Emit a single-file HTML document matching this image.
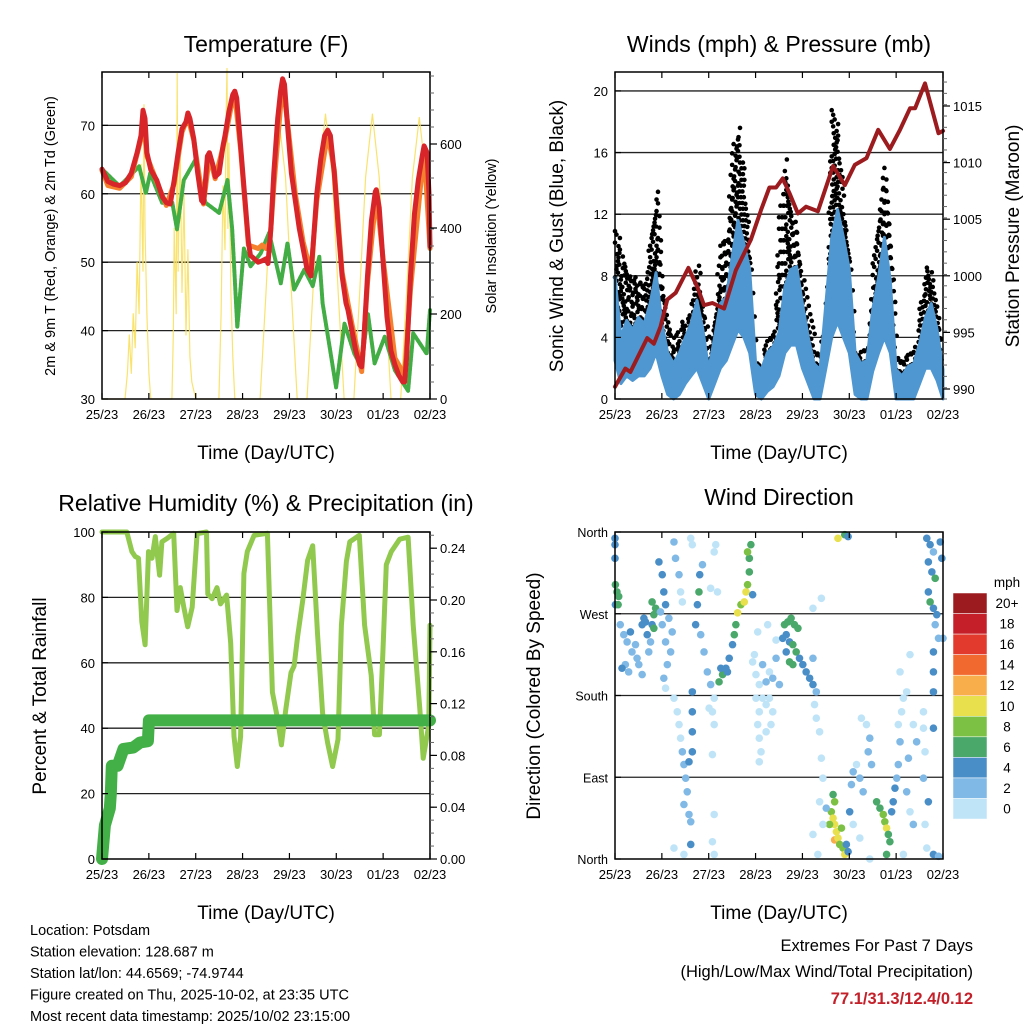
<!DOCTYPE html>
<html><head><meta charset="utf-8"><style>
html,body{margin:0;padding:0;background:#fff;}
svg{display:block;font-family:"Liberation Sans",sans-serif;}
</style></head><body>
<svg id="c" width="1024" height="1024" viewBox="0 0 1024 1024"></svg>
<script>
const dayLabels=['25/23','26/23','27/23','28/23','29/23','30/23','01/23','02/23'];
const tempHours=[0,3,6,9,12,15,18,20,21,22,23,25,28,31,33,35,37,39,41,43,44,45,47,49,51,52,53,54,55,57,58,60,62,63,65,67,68,69,71,73,75,76,78,80,82,84,85,86.5,88,90,91.5,92.5,93.5,95,97,99,101,103,105,107,108,110,112,114,115.6,117,119,121,123,125,126,128,130,132,133,134,136,138,140,140.5,142,144,146,148,150,152,154,155,156,158,160,162,164,165,166.5,167.5,168];
const tempRed=[63.6,61.8,61.4,61.2,61.6,63,66,68.5,72.2,71,66,63.5,62,59.5,58.7,58.5,62,66,69.5,70.5,71.8,71,68,63,59,58.7,62,65.5,66,64,62.5,63,67,68.5,72,74.5,75,74,67,60,53,51,50.5,50,50.2,50.5,49.8,55,63,71,75,76.8,76,70,63,59,55,52,49,48,52,60,65,68.5,69.3,68.5,63,55,48,44,43,40,37,35,34.7,38,48,56,60.3,60.6,58,50,42,37,35,33.5,32.5,32.5,36,48,57,62,65.5,67,66,60,52.3];
const orangeHours=[0,3,9,15,20,21,23,28,33,37,41,44,47,52,55,58,63,67,68,71,75,78,80,82,84,86,88,92.5,95,99,103,107,110,115.6,119,123,128,133,136,140.5,144,150,155,158,165,168];
const tempOrange=[63.4,61.2,60.8,62.5,68,71.5,65.5,61.8,58.3,61.5,69,71.2,67.8,58.5,65.5,62.2,68,74,74.5,66.5,52.5,52.2,52,52.5,52,53,61,76.3,70.5,60,53,48.5,59,68.8,63.5,48.5,41,34,47,60,50.5,36,33.5,46,66.5,52];
const dewHours=[0,9,19,22.5,24.7,30.8,36,38.4,41.9,47.9,53,60,64.3,66.7,69.3,72.7,76.1,81.3,85.6,91.6,95,98.4,103.6,107.9,111.3,113,119.9,124.2,129.3,132.8,136.2,139.6,144.8,150,156.8,159.4,166.3,168];
const dewVals=[63.6,61.1,64,60.1,63,58.7,58.7,54.8,62,65,58.7,57.2,62,54.8,40.5,52,49.4,51.3,54.3,46.9,52.8,46,48.9,46.5,50.8,44,31.7,41,36.6,34.7,42.5,35.2,39.1,34.2,31.2,39.6,36.6,43];
const solarHours=[0,11.8,13,14,15,16,17,18,19,20,21,21.5,22,23,24,25,35.8,36.5,37,38,38.5,39,40,41,42,43,44,45,46,48,59.9,61,62,63,63.5,64,64.5,65,66,67,68,81,84,87,90.5,94,97,100,105,108,111,114.5,118,121,124,129,132,135,138.5,142,145,148,153,156,159,162.5,166,168];
const solarVals=[0,0,60,150,60,200,120,320,200,550,300,690,400,200,60,0,0,150,400,200,763,300,600,250,480,150,350,100,40,0,0,200,500,350,650,775,400,600,250,100,0,0,250,520,660,520,250,0,0,250,520,668,520,250,0,0,250,520,668,520,250,0,0,250,520,660,520,380];
const windHours=[0,3,6,9,12,15,18,21,24,27,30,33,36,39,42,45,48,51,54,57,60,63,66,69,72,75,78,81,84,87,90,93,96,99,102,105,108,111,114,117,120,123,126,129,132,135,138,141,144,147,150,153,156,159,162,165,168];
const windMax=[7.9,4,5.1,4.5,5.3,4.9,6.2,8.2,4.9,3,2.3,3,4,4.9,6.4,4.5,1.9,4,6.2,6.6,9.2,11.6,10.1,8.4,2.3,1.9,3,3.4,4.3,7.3,8.4,8.6,6.2,4,2.3,1.9,6.2,10.5,12.3,10.5,8.4,3,2.3,2.5,5.8,7.9,10.5,7.7,1.9,1.5,2.1,2.3,3.6,5.3,6.2,4.5,1.9];
const windMin=[2.5,1,1.5,1.2,1.5,1.5,2,3,1.5,0.3,0,0.3,1,1.5,2,1,0,1,2,2.5,3.5,4.5,4,3,0.3,0,0.5,0.8,1.5,3,3.5,3.5,2,1,0,0,2,4,5,4,3,0.3,0,0,1.8,3,4,3,0,0,0,0,1,2,2,1.2,0];
const gustMax=[11.6,9.6,8.4,7.9,8.1,7.5,11,13.8,7.5,5.1,3.6,4.9,5.3,6.6,9,6.2,3.6,6.2,10.3,11,16.2,17.7,14.2,9.2,2.5,2.5,4.3,4.7,11.8,15.7,12.3,11,7.9,6.2,3.6,3,6.2,19.3,17.5,12.7,9.2,3.2,3.2,3.4,9.2,12.3,15.1,10.5,2.8,2.8,3.2,3.2,6.2,9,8.4,6.2,1.9];
const presHours=[0,5.3,7.9,12.2,16.5,19.9,23.3,26.8,31.1,37.6,42.2,45.6,49.9,55.9,61.9,69.6,74.8,79.1,82.5,85.9,89.4,93.7,97.9,103.9,111.7,117.7,122.8,128.8,134.8,140.8,146,151.1,153.7,158.8,165.7,168];
const presVals=[990.2,991.8,991.5,993,994.5,994,995.5,997.9,998.5,1000.7,999,997.4,997.6,997.1,1000.5,1003.2,1005.8,1007.8,1007.8,1008.6,1007.3,1005.5,1006.1,1005.7,1009.7,1008,1009.8,1010.4,1012.9,1011.2,1012.9,1014.8,1014.8,1017,1012.6,1012.8];
const rhHours=[0,12.7,15.3,17,18.7,20.4,22.1,23.8,25.6,27.3,29.5,30.7,33.3,36.7,38.4,40.1,41.9,43.9,46.2,48.7,53.5,54.2,56.4,58.9,60.7,63.8,65.9,67.6,69.3,71,72.7,74.4,77.9,84.7,87.3,89.9,91.9,94.2,96.8,98.4,100.2,102.8,105.3,107.9,110.4,113,115.6,118.1,120.9,122.6,125.2,126.9,131.8,134.5,137.9,139.6,142.1,143.8,145.6,148.2,152.5,156.8,159.4,162.8,164.5,167.4,168];
const rhVals=[100,100,94,92.5,92,72.6,65.5,94,92,98.6,86.8,97,98,99.6,76,83,77,71,77,99.5,100,81,79.6,83,78,80.7,66,37.5,28.3,37.5,87.3,94,99,99.6,51,43,34.9,46,57,59,68,79,91.3,95.8,69,44.6,35.4,28.3,36.6,71.5,91,97,99,71.5,56.2,38,38,62.5,90,94,97.8,98.4,71.5,46,30.8,41,71.5];
const precipHours=[0,1.5,4,4.5,5,8,11,16,19.5,23.5,24,168];
const precipVals=[0,0.026,0.039,0.05,0.072,0.072,0.085,0.086,0.09,0.091,0.107,0.107];
const dirHours=[0.2,1,1.9,0.2,1.6,0,0,0,2.7,4.5,6.2,7.9,8.7,10.5,11.3,12.2,13.9,14.8,15.6,16.5,17.3,18.2,19,19.9,20.8,19,19.9,5.3,7,3.6,13.9,22.5,24.2,25,25.9,27.6,29.3,23.3,24.2,25.9,28.5,30.2,31,32.8,33.6,34.5,26.8,25,25.9,30.2,31.9,32.8,33.6,34.5,35.3,36.2,37,35.3,37.9,38.8,39.6,39.6,39.6,39.6,37.9,38.8,39.6,30.2,35.3,38.8,43,42.2,43.4,44.8,41.3,43.9,45.6,47.3,49,50.8,49.9,50.8,48.2,49.9,50.8,49.9,50.8,51.6,50.8,49,52.5,53.3,55.1,56.8,58.5,60.2,61.1,61.9,62.8,64.5,66.2,67.1,67.9,68.8,68.8,69.6,67.9,70.5,54.2,57.6,70.5,72.2,73.9,75.6,77.4,79.1,80.8,82.5,84.2,72.2,73.9,73.1,73.9,74.8,73.9,79.1,79.9,77.4,73.1,78.2,82.5,71.4,75.6,80.8,77.4,86.8,88.5,90.2,91.9,93.7,87.7,89.4,91.1,92.8,87.7,89.4,85.9,91.1,94.5,96.2,97.9,99.7,101.4,103.1,102.2,103.1,104.8,105.7,106.5,104.8,101.4,103.9,101.4,105.7,101.4,111.7,112.5,110.8,111.7,112.5,113.4,112.5,114.2,115.1,116.8,117.7,118.5,119.4,109.9,116,108.2,106.5,114.2,117.7,119.4,120.2,121.1,122,123.7,125.4,127.1,126.2,128.8,130.5,129.7,131.4,122,125.4,130.5,134,135.7,137.4,138.2,139.1,140,140.8,139.1,142.5,143.4,141.7,144.3,145.1,146,145.1,146.8,147.7,149.4,146,151.1,152.8,154.5,150.3,149.4,151.1,152.8,147.7,159.7,161.4,163.1,160.5,162.3,164,160.5,161.4,163.1,164.8,164,165.7,163.1,163.1,163.1,163.1,158,158,158.8,158,160.5,158.8,159.7,163.1,165.7,168,166.6,167.4];
const dirDegrees=[302,294,289,280,280,346,331,353,258,247,239,250,228,236,221,214,258,265,261,247,228,239,258,269,276,283,254,214,206,210,203,327,313,294,280,265,250,272,258,239,228,349,331,313,294,283,214,199,188,177,162,148,133,118,104,89,74,60,49,41,184,162,140,118,107,353,346,12,5,16,294,280,313,324,258,247,228,206,192,177,162,148,166,115,49,19,5,346,338,298,294,195,203,210,221,236,247,258,271,280,283,294,302,316,331,346,338,291,210,206,217,203,192,214,195,206,199,221,192,177,162,148,133,118,107,177,148,140,250,258,241,225,177,162,170,258,261,265,258,254,247,239,236,228,228,217,243,214,221,214,206,199,192,184,170,155,140,111,89,63,27,5,276,287,221,71,63,52,45,38,30,21,23,16,12,5,16,8,38,34,56,38,353,357,355,52,82,96,104,89,74,155,148,133,118,104,38,23,0,63,56,49,41,34,27,19,5,63,78,52,89,104,129,148,162,177,184,206,225,148,129,111,74,52,38,5,353,346,338,327,316,309,294,283,276,269,258,243,228,206,184,144,162,144,118,89,63,38,12,5,3,243,349,331];
const dirSpeeds=[6,6,6,4,6,4,4,4,2,2,2,4,2,2,2,2,4,4,4,4,2,2,4,6,6,6,6,2,2,4,2,4,4,4,4,2,2,2,2,2,2,2,2,2,0,0,2,2,0,0,0,0,0,2,2,2,2,2,2,2,4,4,4,4,4,0,0,0,0,4,6,4,4,2,4,2,2,2,2,0,0,0,0,0,0,0,0,0,0,0,0,6,6,4,4,4,6,6,10,8,10,10,8,6,6,6,8,4,4,4,0,0,0,2,2,0,2,2,2,0,0,0,0,0,0,0,0,0,0,0,0,0,0,0,0,6,6,6,6,6,4,4,6,6,4,6,4,6,4,4,4,4,4,2,0,0,0,0,0,0,0,0,0,0,2,6,8,8,10,10,10,12,10,8,8,10,4,4,8,8,2,0,10,6,4,4,2,2,0,2,2,0,0,2,2,2,0,0,0,6,6,8,8,10,6,6,6,4,4,4,2,2,2,0,0,0,0,0,0,0,2,2,2,0,2,0,4,4,2,4,4,6,4,6,4,4,2,2,4,4,4,4,0,0,0,2,4,0,0,4,2,2,4,4];
const cbLabels=['20+','18','16','14','12','10','8','6','4','2','0'];
const cbColors=['#9b1b1e','#c5202a','#e23a2c','#f2692f','#f9ae4c','#e9e04e','#7cc143','#49a86a','#4a8ec8','#80b9e5','#bfe4f8'];

const NS='http://www.w3.org/2000/svg';
const svg=document.getElementById('c');
function mk(tag,attrs,parent){const e=document.createElementNS(NS,tag);for(const k in attrs)e.setAttribute(k,attrs[k]);(parent||svg).appendChild(e);return e;}
function txt(s,x,y,size,anchor,parent,rot){const t=mk('text',{x:x,y:y,'font-size':size,'text-anchor':anchor||'middle',fill:'#000'},parent);if(rot)t.setAttribute('transform','rotate(-90 '+x+' '+y+')');t.textContent=s;return t;}
function speedColor(s){let i=Math.min(10,Math.floor(s/2));return cbColors[10-i];}

function panel(name,x0,y0,w,h,ymin,ymax){
  const g=mk('g',{});
  
  
  return {g:g,x0:x0,y0:y0,w:w,h:h,xs:t=>x0+t/168*w,ys:v=>y0+h-(v-ymin)/(ymax-ymin)*h};
}
function frame(p,grid){
  const g=p.g;
  grid.forEach(v=>{const l=mk('line',{x1:p.x0,x2:p.x0+p.w,y1:p.ys(v),y2:p.ys(v),stroke:'#222','stroke-width':1.3},g);
    
    });
}
function border(p){
  const r=mk('rect',{x:p.x0,y:p.y0,width:p.w,height:p.h,fill:'none',stroke:'#000','stroke-width':1.5},p.g);
  
  
  for(let d=0;d<8;d++){const x=p.xs(d*24);
    mk('line',{x1:x,x2:x,y1:p.y0+p.h,y2:p.y0+p.h-6,stroke:'#000','stroke-width':1.2},p.g);
    mk('line',{x1:x,x2:x,y1:p.y0,y2:p.y0+6,stroke:'#000','stroke-width':1.2},p.g);
    const t=txt(dayLabels[d],x,p.y0+p.h+20,13,'middle',p.g);
    
    }
  const xt=txt('Time (Day/UTC)',p.x0+p.w/2,p.y0+p.h+60,19,'middle',p.g);
  
  
}
function leftTicks(p,vals,labels,size){
  vals.forEach((v,i)=>{const y=p.ys(v);
    mk('line',{x1:p.x0,x2:p.x0+6,y1:y,y2:y,stroke:'#000','stroke-width':1.2},p.g);
    const t=txt(labels[i],p.x0-7,y+5,size||13,'end',p.g);
    
    });
}
function rightTicks(p,ys,labels,minorStep){
  const xr=p.x0+p.w;
  for(let y=p.y0+p.h;y>p.y0;y-=minorStep){mk('line',{x1:xr,x2:xr+4,y1:y,y2:y,stroke:'#666','stroke-width':1},p.g);}
  ys.forEach((y,i)=>{mk('line',{x1:xr,x2:xr+7,y1:y,y2:y,stroke:'#000','stroke-width':1.2},p.g);
    const t=txt(labels[i],xr+10,y+5,13,'start',p.g);
    
    });
}
function line(p,hs,vs,ys,color,width,name,op){
  const pts=hs.map((h,i)=>p.xs(h).toFixed(1)+','+ys(vs[i]).toFixed(1)).join(' ');
  const l=mk('polyline',{points:pts,fill:'none',stroke:color,'stroke-width':width,'stroke-linejoin':'round','stroke-linecap':'round',opacity:op||1},p.g);
  
  
  return l;
}
function title(s,x,y,size){const t=txt(s,x,y,size||23,'middle');}

// ---- Temperature panel
const P1=panel('temperature-panel',102,72,328,327,30,77.8);
frame(P1,[40,50,60,70]);
const solarY=v=>399-v/200*85.3;
line(P1,solarHours,solarVals,solarY,'#f8e05e',1.2,'solar-insolation-line',0.9);
line(P1,dewHours,dewVals,P1.ys,'#43ad45',4,'dewpoint-line').setAttribute('stroke-dasharray','3 1.5');
line(P1,orangeHours,tempOrange,P1.ys,'#f5812e',5,'temp-9m-line');
line(P1,tempHours,tempRed,P1.ys,'#d7252a',5,'temp-2m-line');
border(P1);
leftTicks(P1,[30,40,50,60,70],['30','40','50','60','70']);
rightTicks(P1,[399,314,228,144],['0','200','400','600'],17);
title('Temperature (F)',266,52);
let t=txt('2m & 9m T (Red, Orange) & 2m Td (Green)',55,236,14.5,'middle',null,true);

t=txt('Solar Insolation (Yellow)',496,236,14.5,'middle',null,true);


// ---- Winds panel
const P2=panel('winds-panel',615,72,328,327,0,21.23);
frame(P2,[4,8,12,16,20]);
const gustG=mk('g',{},P2.g);


for(let i=0;i<windHours.length-1;i++){
  for(let j=0;j<4;j++){
    const f=j/4, hh=windHours[i]+f*(windHours[i+1]-windHours[i]);
    const top=gustMax[i]+f*(gustMax[i+1]-gustMax[i]);
    const bot=windMax[i]+f*(windMax[i+1]-windMax[i]);
    for(let v=bot;v<=top;v+=0.75){
      const c=mk('circle',{cx:P2.xs(hh)+((j+Math.round(v*2))%2)*2,cy:P2.ys(v),r:2.3,fill:'#000'},gustG);
      
    }
  }
}
{const up=windHours.map((h,i)=>P2.xs(h).toFixed(1)+','+P2.ys(windMax[i]).toFixed(1));
 const dn=windHours.map((h,i)=>P2.xs(h).toFixed(1)+','+P2.ys(windMin[i]).toFixed(1)).reverse();
 const a=mk('polygon',{points:up.concat(dn).join(' '),fill:'#4f97d1',stroke:'#4f97d1','stroke-width':3,'stroke-linejoin':'round'},P2.g);
 
 }
const presY=v=>389-(v-990)*11.32;
line(P2,presHours,presVals,presY,'#9b1b1e',4,'pressure-line');
border(P2);
leftTicks(P2,[0,4,8,12,16,20],['0','4','8','12','16','20']);
rightTicks(P2,[389,332.4,275.8,219.2,162.6,106],['990','995','1000','1005','1010','1015'],11.32);
title('Winds (mph) & Pressure (mb)',779,52);
t=txt('Sonic Wind & Gust (Blue, Black)',563,236,19,'middle',null,true);

t=txt('Station Pressure (Maroon)',1019,236,19,'middle',null,true);


// ---- RH panel
const P3=panel('humidity-panel',102,532,328,327,0,100);
frame(P3,[20,40,60,80,100]);
line(P3,rhHours,rhVals,P3.ys,'#90c94e',5,'rh-line');
const precY=v=>859-v/0.04*51.8;
line(P3,precipHours,precipVals,precY,'#43b047',12,'precip-line');
border(P3);
leftTicks(P3,[0,20,40,60,80,100],['0','20','40','60','80','100']);
rightTicks(P3,[859,807.2,755.4,703.6,651.8,600,548.2],['0.00','0.04','0.08','0.12','0.16','0.20','0.24'],12.95);
title('Relative Humidity (%) & Precipitation (in)',266,511);
t=txt('Percent & Total Rainfall',46,696,19,'middle',null,true);


// ---- Wind direction panel
const P4=panel('wind-direction-panel',615,532,328,327,0,360);
frame(P4,[90,180,270]);
const dg=mk('g',{},P4.g);


dirHours.forEach((h,i)=>{const c=mk('circle',{cx:P4.xs(h),cy:P4.ys(dirDegrees[i]),r:3.8,fill:speedColor(dirSpeeds[i])},dg);
  });
border(P4);
leftTicks(P4,[0,90,180,270,360],['North','East','South','West','North'],12.5);
title('Wind Direction',779,505);
t=txt('Direction (Colored By Speed)',540,696,19,'middle',null,true);

const cb=mk('g',{});


cbColors.forEach((c,i)=>{mk('rect',{x:953,y:593+i*20.55,width:34,height:20.55,fill:c,stroke:'#fff','stroke-width':0.5},cb);
  const l=txt(cbLabels[i],1007,593+i*20.55+15,13.5,'middle',cb);
  
  });
t=txt('mph',1007,587,13.5,'middle',cb);


// ---- footer
['Location: Potsdam','Station elevation: 128.687 m','Station lat/lon: 44.6569; -74.9744','Figure created on Thu, 2025-10-02, at 23:35 UTC','Most recent data timestamp: 2025/10/02 23:15:00'].forEach((s,i)=>{
  const f=txt(s,30,935+i*21.5,14.5,'start');
  
  });
t=txt('Extremes For Past 7 Days',973,951,16.5,'end');

t=txt('(High/Low/Max Wind/Total Precipitation)',973,977,16.5,'end');

t=txt('77.1/31.3/12.4/0.12',973,1004,16.5,'end');
t.setAttribute('fill','#c4202a');t.setAttribute('font-weight','bold');

</script>
</body></html>
